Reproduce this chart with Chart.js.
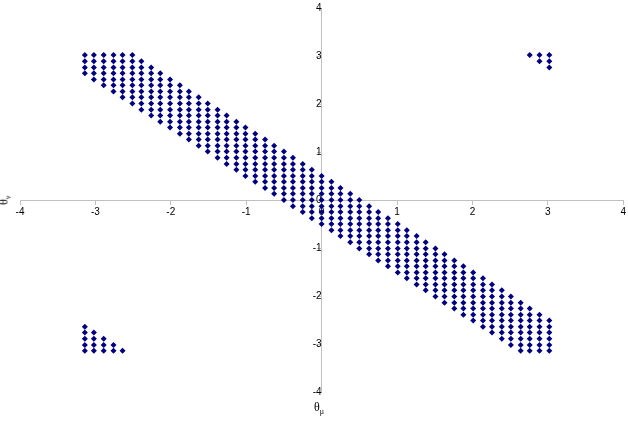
<!DOCTYPE html>
<html lang="en">
<head>
    <meta charset="UTF-8">
    <title>Theta scatter</title>
    <script src="https://cdn.jsdelivr.net/npm/chart.js"></script>
    <style>
        body { margin: 0; background: #fff; }
        .wrap { position: relative; width: 628px; height: 425px; }
        .xtitle {
            position: absolute; left: 314px; top: 400px;
            font: 12px "Liberation Serif", serif; color: #000;
        }
        .ytitle {
            position: absolute; left: 0px; top: 192px;
            font: 12px "Liberation Serif", serif; color: #000;
            transform: rotate(-90deg);
        }
        sub { font-size: 8px; }
    </style>
</head>
<body>
    <div class="wrap">
        <canvas id="thetaChart" width="628" height="425"></canvas>
        <div class="xtitle">θ<sub>μ</sub></div>
        <div class="ytitle">θ<sub>ν</sub></div>
    </div>

    <script>
        // grid positions (same for columns and rows)
        const gridVals = [-3.14, -3.02, -2.89, -2.76, -2.64, -2.51, -2.39, -2.26, -2.14, -2.01,
                          -1.88, -1.76, -1.63, -1.51, -1.38, -1.26, -1.13, -1.01, -0.88, -0.75,
                          -0.63, -0.50, -0.38, -0.25, -0.13, 0.00, 0.13, 0.25, 0.38, 0.50,
                          0.63, 0.75, 0.88, 1.01, 1.13, 1.26, 1.38, 1.51, 1.63, 1.76,
                          1.88, 2.01, 2.14, 2.26, 2.39, 2.51, 2.64, 2.76, 2.89, 3.02];

        // diagonal band: lowest / highest row index filled in each column
        const bandLo = [46, 45, 44, 43, 42, 41, 40, 39, 38, 37, 36, 35, 34, 33, 32, 31, 30, 29, 28, 27,
                        26, 25, 24, 23, 22, 21, 20, 19, 18, 17, 16, 15, 14, 13, 12, 11, 10, 9, 8, 7,
                        6, 5, 4, 3, 2, 1, 0, 0, 0, 0];
        const bandHi = [49, 49, 49, 49, 49, 49, 48, 47, 46, 45, 44, 43, 42, 41, 40, 39, 38, 37, 36, 35,
                        34, 33, 32, 31, 30, 29, 28, 27, 26, 25, 24, 23, 22, 21, 20, 19, 18, 17, 16, 15,
                        14, 13, 12, 11, 10, 9, 8, 7, 6, 5];

        // corner patches: [column, lowRow, highRow]
        const cornerRuns = [[0, 0, 4], [1, 0, 3], [2, 0, 2], [3, 0, 1], [4, 0, 0],
                            [47, 49, 49], [48, 48, 49], [49, 47, 49]];

        const axisTicks = [-4, -3, -2, -1, 0, 1, 2, 3, 4];

        const points = [];
        bandLo.forEach((lo, c) => {
            for (let r = lo; r <= bandHi[c]; r++) points.push({ x: gridVals[c], y: gridVals[r] });
        });
        cornerRuns.forEach(([c, lo, hi]) => {
            for (let r = lo; r <= hi; r++) points.push({ x: gridVals[c], y: gridVals[r] });
        });

        const axisColor = '#c0c0c0';
        const tickFont = { family: 'Liberation Sans', size: 10 };

        const config = {
            type: 'scatter',
            data: {
                datasets: [{
                    data: points,
                    pointStyle: 'rectRot',
                    pointRadius: 3,
                    backgroundColor: '#000080',
                    borderColor: '#000080',
                    borderWidth: 0
                }]
            },
            options: {
                responsive: false,
                animation: false,
                layout: { padding: { left: 20, right: 4, top: 4, bottom: 33 } },
                plugins: { legend: { display: false }, tooltip: { enabled: false } },
                scales: {
                    x: {
                        type: 'linear',
                        min: axisTicks[0], max: axisTicks[axisTicks.length - 1],
                        position: { y: 0 },
                        afterBuildTicks: axis => { axis.ticks = axisTicks.map(v => ({ value: v })); },
                        grid: { drawOnChartArea: false, color: axisColor, tickLength: 4 },
                        border: { color: axisColor },
                        ticks: { color: '#000', font: tickFont, padding: 2, maxRotation: 0 }
                    },
                    y: {
                        type: 'linear',
                        min: axisTicks[0], max: axisTicks[axisTicks.length - 1],
                        position: { x: 0 },
                        afterBuildTicks: axis => { axis.ticks = axisTicks.map(v => ({ value: v })); },
                        grid: { drawOnChartArea: false, color: axisColor, tickLength: 4 },
                        border: { color: axisColor },
                        ticks: { color: '#000', font: tickFont, padding: 2 }
                    }
                }
            }
        };

        new Chart(document.getElementById('thetaChart').getContext('2d'), config);
    </script>
</body>
</html>
